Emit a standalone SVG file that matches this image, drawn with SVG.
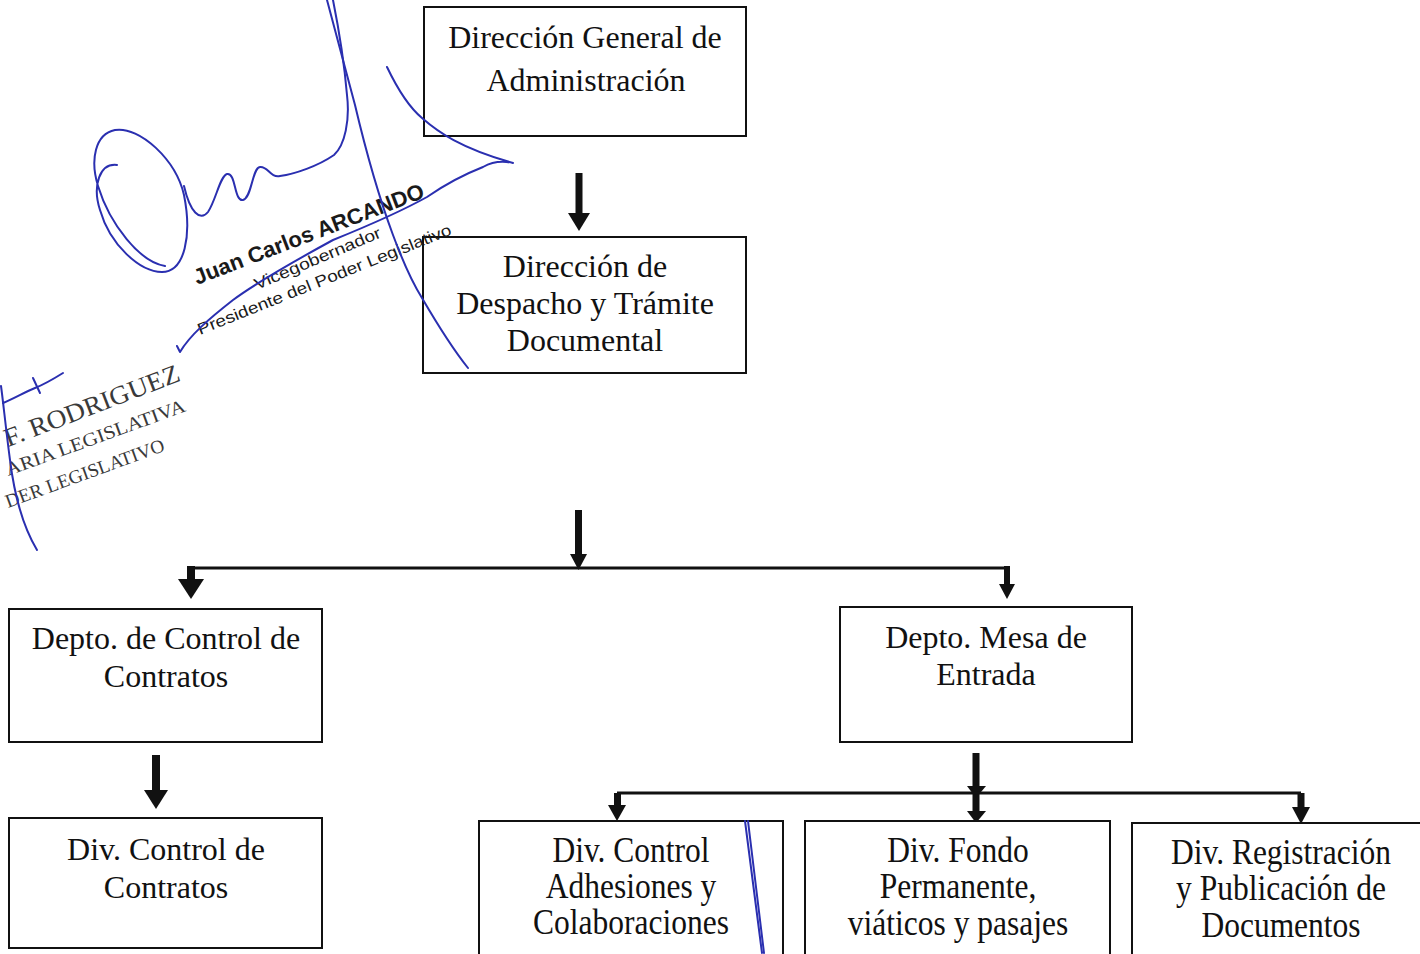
<svg xmlns="http://www.w3.org/2000/svg" width="1420" height="954" viewBox="0 0 1420 954">
<style>
.box{fill:#fff;stroke:#111;stroke-width:2}
.t{font-family:"Liberation Serif","Times New Roman",serif;font-size:32px;fill:#111;text-anchor:middle}
.tb{font-family:"Liberation Serif","Times New Roman",serif;font-size:35px;fill:#111;text-anchor:middle}
.ln{stroke:#111;stroke-width:3;fill:none}
.ar{fill:#111}
.ink{fill:none;stroke:#2a2fb0;stroke-width:2;stroke-linecap:round;stroke-linejoin:round}
.st1{font-family:"Liberation Sans",Arial,sans-serif;fill:#1a1a1a}
.st2{font-family:"Liberation Serif","Times New Roman",serif;fill:#3a3a3a}
</style>
<rect width="1420" height="954" fill="#fff"/>

<g id="connectors">
  <rect class="ar" x="575.5" y="173" width="7" height="42"/>
  <polygon class="ar" points="568,213 590,213 579,231"/>
  <rect class="ar" x="575" y="510" width="7" height="46"/>
  <polygon class="ar" points="570,554 587,554 578.5,570"/>
  <line class="ln" x1="191" y1="568" x2="1007" y2="568"/>
  <rect class="ar" x="187" y="566" width="8" height="15"/>
  <polygon class="ar" points="178,579 204,579 191,599"/>
  <rect class="ar" x="1004" y="566" width="6" height="20"/>
  <polygon class="ar" points="999,584 1015,584 1007,599"/>
  <rect class="ar" x="152" y="755" width="8" height="37"/>
  <polygon class="ar" points="144,790 168,790 156,809"/>
  <rect class="ar" x="972.5" y="753" width="7" height="60"/>
  <polygon class="ar" points="967,786 986,786 976,798"/>
  <polygon class="ar" points="967,811 986,811 976,823"/>
  <line class="ln" x1="617" y1="793" x2="1301" y2="793"/>
  <rect class="ar" x="614" y="793" width="7" height="13"/>
  <polygon class="ar" points="608,805 626,805 617,821"/>
  <rect class="ar" x="1297.5" y="793" width="7" height="15"/>
  <polygon class="ar" points="1292,807 1310,807 1301,824"/>
</g>

<g id="n-dga">
  <rect class="box" x="424" y="7" width="322" height="129"/>
  <text class="t" x="585" y="48">Dirección General de</text>
  <text class="t" x="586" y="91">Administración</text>
</g>
<g id="n-despacho">
  <rect class="box" x="423" y="237" width="323" height="136"/>
  <text class="t" x="585" y="277">Dirección de</text>
  <text class="t" x="585" y="314">Despacho y Trámite</text>
  <text class="t" x="585" y="351">Documental</text>
</g>
<g id="n-depto-control">
  <rect class="box" x="9" y="609" width="313" height="133"/>
  <text class="t" x="166" y="649">Depto. de Control de</text>
  <text class="t" x="166" y="687">Contratos</text>
</g>
<g id="n-depto-mesa">
  <rect class="box" x="840" y="607" width="292" height="135"/>
  <text class="t" x="986" y="648">Depto. Mesa de</text>
  <text class="t" x="986" y="685">Entrada</text>
</g>
<g id="n-div-contratos">
  <rect class="box" x="9" y="818" width="313" height="130"/>
  <text class="t" x="166" y="860">Div. Control de</text>
  <text class="t" x="166" y="898">Contratos</text>
</g>
<g id="n-div-adhesiones">
  <rect class="box" x="479" y="821" width="304" height="140"/>
  <g transform="translate(631 0) scale(0.9 1)">
    <text class="tb" x="0" y="862">Div. Control</text>
    <text class="tb" x="0" y="898">Adhesiones y</text>
    <text class="tb" x="0" y="934">Colaboraciones</text>
  </g>
</g>
<g id="n-div-fondo">
  <rect class="box" x="805" y="821" width="305" height="140"/>
  <g transform="translate(958 0) scale(0.9 1)">
    <text class="tb" x="0" y="862">Div. Fondo</text>
    <text class="tb" x="0" y="898">Permanente,</text>
    <text class="tb" x="0" y="935">viáticos y pasajes</text>
  </g>
</g>
<g id="n-div-registracion">
  <path class="box" d="M1132 960 V823 H1430"/>
  <g transform="translate(1281 0) scale(0.9 1)">
    <text class="tb" x="0" y="864">Div. Registración</text>
    <text class="tb" x="0" y="900">y Publicación de</text>
    <text class="tb" x="0" y="937">Documentos</text>
  </g>
</g>

<g id="stamp-arcando">
  <text class="st1" font-size="22" font-weight="bold" transform="translate(197 285) rotate(-21)" textLength="245" lengthAdjust="spacingAndGlyphs">Juan Carlos ARCANDO</text>
  <text class="st1" font-size="16" transform="translate(257 290) rotate(-23)" textLength="136" lengthAdjust="spacingAndGlyphs">Vicegobernador</text>
  <text class="st1" font-size="16" transform="translate(200 335) rotate(-21.8)" textLength="272" lengthAdjust="spacingAndGlyphs">Presidente del Poder Legislativo</text>
</g>
<g id="stamp-rodriguez">
  <text class="st2" font-size="26" transform="translate(8 447) rotate(-21)" textLength="186" lengthAdjust="spacingAndGlyphs">F. RODRIGUEZ</text>
  <text class="st2" font-size="19" transform="translate(8 476) rotate(-20)" textLength="190" lengthAdjust="spacingAndGlyphs">ARIA LEGISLATIVA</text>
  <text class="st2" font-size="19" transform="translate(8 508) rotate(-20)" textLength="168" lengthAdjust="spacingAndGlyphs">DER LEGISLATIVO</text>
</g>

<g id="signature">
  <path class="ink" d="M117 165 C100 163 92 185 100 210 C110 245 140 272 162 272 C185 272 192 235 184 195 C176 160 140 126 115 130 C95 134 90 160 98 186 C110 225 140 262 165 266"/>
  <path class="ink" d="M184 186 C190 212 200 222 208 212 C216 200 220 176 227 174 C236 172 234 202 243 200 C252 198 252 168 260 167 C268 166 270 178 280 176 C295 174 318 166 334 155 C345 145 350 120 347 95 C344 60 338 25 333 0"/>
  <path class="ink" d="M327 0 C338 40 347 75 355 105 C368 160 380 200 393 235 C403 262 412 282 422 298 C436 322 452 348 468 368"/>
  <path class="ink" d="M387 67 C398 90 410 108 422 118 C438 132 460 148 513 163 C500 160 490 163 483 167 C460 176 440 188 427 197 C400 212 370 225 333 240 C300 258 260 280 233 300 C210 318 190 335 180 352 L177 346"/>
  <path class="ink" d="M1 386 C3 400 6 430 10 460 C14 492 22 525 37 550"/>
  <path class="ink" d="M3 403 C15 398 25 392 35 388 C45 384 55 378 63 373"/>
  <path class="ink" d="M33 378 L40 393"/>
  <path class="ink" stroke-width="1.5" d="M745 821 L762 953"/>
  <path class="ink" stroke-width="1" d="M748 821 L764 953"/>
</g>
</svg>
